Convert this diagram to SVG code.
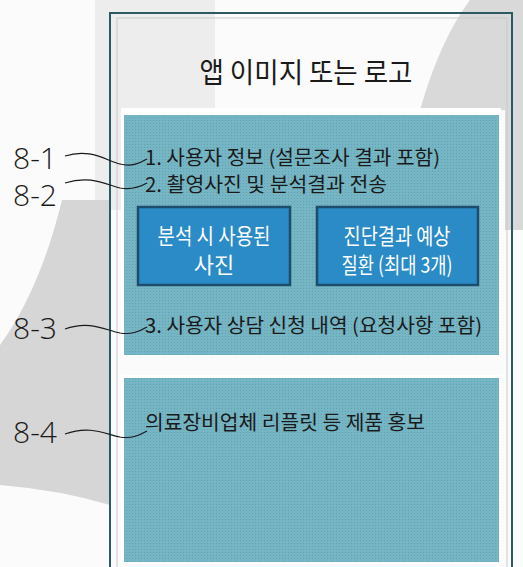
<svg xmlns="http://www.w3.org/2000/svg" width="523" height="567" viewBox="0 0 523 567">
<style>
.lbl{font-family:"Open Sans","Liberation Sans",Arial,sans-serif;font-weight:300;font-size:29px;fill:#1a1a1a}
.kr{font-family:"Noto Sans CJK KR","Noto Sans",sans-serif;fill:#1a1a1a}
.pt{font-size:20px}
.bt{font-size:22px;fill:#ffffff;text-anchor:middle}
.lead{fill:none;stroke:#1a1a1a;stroke-width:1.2}
.box{fill:#2a8bc6;stroke:#1c4e6c;stroke-width:2.5}
</style>
<defs>
<pattern id="dots" width="3" height="3" patternUnits="userSpaceOnUse">
<rect width="3" height="3" fill="#76b5c4"/>
<rect width="1" height="1" fill="#62a1b1"/>
</pattern>
</defs>
<g id="watermark">
<rect x="0" y="0" width="523" height="567" fill="#fbfbfb"/>
<rect x="95" y="0" width="120" height="210" fill="#ededed"/>
<path d="M62,200 Q40,290 0,345 L0,485 Q60,490 110,505 L110,200 Z" fill="#d6d6d6"/>
<path d="M470,0 L523,0 L523,230 L505,230 L505,110 L420,110 Q440,40 470,0 Z" fill="#d9d9d9"/>
</g>
<g id="frame">
<rect x="110" y="13" width="402" height="570" fill="none" stroke="#2c5a64" stroke-width="2"/>
<rect x="117" y="18" width="390" height="560" fill="none" stroke="#c9c9c9" stroke-width="1"/>
</g>
<g id="title">
<text class="kr" x="306" y="83" font-size="28" text-anchor="middle" textLength="213" lengthAdjust="spacingAndGlyphs">앱 이미지 또는 로고</text>
</g>
<g id="panel-top">
<rect x="121" y="108" width="380" height="249" fill="#ffffff"/>
<rect x="124" y="115" width="375" height="240" fill="url(#dots)"/>
<text class="kr pt" x="145" y="165" textLength="295" lengthAdjust="spacingAndGlyphs">1. 사용자 정보 (설문조사 결과 포함)</text>
<text class="kr pt" x="145" y="192" textLength="242" lengthAdjust="spacingAndGlyphs">2. 촬영사진 및 분석결과 전송</text>
<text class="kr pt" x="145" y="333" textLength="337" lengthAdjust="spacingAndGlyphs">3. 사용자 상담 신청 내역 (요청사항 포함)</text>
</g>
<g id="box-photo">
<rect class="box" x="138" y="207" width="152" height="78"/>
<text class="kr bt" x="214" y="244" textLength="113" lengthAdjust="spacingAndGlyphs">분석 시 사용된</text>
<text class="kr bt" x="214" y="273">사진</text>
</g>
<g id="box-result">
<rect class="box" x="317" y="207" width="161" height="78"/>
<text class="kr bt" x="397" y="244" textLength="107" lengthAdjust="spacingAndGlyphs">진단결과 예상</text>
<text class="kr bt" x="397" y="273" textLength="111" lengthAdjust="spacingAndGlyphs">질환 (최대 3개)</text>
</g>
<g id="panel-bottom">
<rect x="121" y="375" width="380" height="189" fill="#ffffff"/>
<rect x="124" y="378" width="375" height="184" fill="url(#dots)"/>
<text class="kr pt" x="145" y="430" textLength="280" lengthAdjust="spacingAndGlyphs">의료장비업체 리플릿 등 제품 홍보</text>
</g>
<g id="labels">
<text class="lbl" x="13" y="169" textLength="44" lengthAdjust="spacingAndGlyphs">8-1</text>
<text class="lbl" x="13" y="206" textLength="44" lengthAdjust="spacingAndGlyphs">8-2</text>
<text class="lbl" x="13" y="339" textLength="44" lengthAdjust="spacingAndGlyphs">8-3</text>
<text class="lbl" x="13" y="443" textLength="44" lengthAdjust="spacingAndGlyphs">8-4</text>
</g>
<g id="connectors">
<path class="lead" d="M65,156 C90,148 105,160 120,164 C132,167 140,163 147,159"/>
<path class="lead" d="M65,183 C90,175 105,184 120,188 C132,190 140,187 147,183"/>
<path class="lead" d="M65,329 C90,320 105,330 120,333 C132,335 140,331 147,327"/>
<path class="lead" d="M65,434 C90,425 105,434 120,437 C132,439 140,435 147,431"/>
</g>
</svg>
